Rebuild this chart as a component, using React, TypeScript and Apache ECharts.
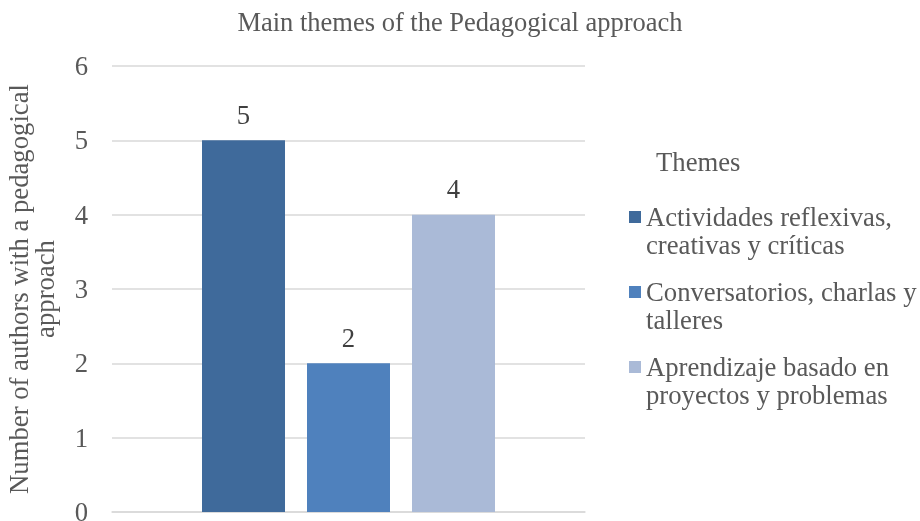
import React, { useEffect, useRef } from "react";
import * as echarts from "echarts";

const titleText = "Main themes of the Pedagogical approach";
const legendTitle = "Themes";
const yAxisName = "Number of authors with a pedagogical\napproach";
const categories = ["Main themes"];
const seriesNames = [
  "Actividades reflexivas,\ncreativas y críticas",
  "Conversatorios, charlas y\ntalleres",
  "Aprendizaje basado en\nproyectos y problemas",
];
const seriesValues = [5, 2, 4];
const seriesColors = ["#3F6A9B", "#4F81BD", "#AABAD7"];

const FONT = "'Liberation Serif', 'Times New Roman', serif";
const FS = 26.7;

export default function App() {
  const ref = useRef<HTMLDivElement>(null);
  useEffect(() => {
    const chart = echarts.init(ref.current!, null, { renderer: "svg" });
    const icon = "path://M0,0h12v12h-12z M0,40h0.001";
    chart.setOption({
      animation: false,
      textStyle: { fontFamily: FONT },
      title: [
        {
          text: titleText,
          left: "center",
          top: 3,
          textStyle: { fontFamily: FONT, fontSize: 26.5, fontWeight: "normal", color: "#595959" },
        },
        {
          text: legendTitle,
          left: 651,
          top: 143,
          textStyle: { fontFamily: FONT, fontSize: FS, fontWeight: "normal", color: "#595959" },
        },
      ],
      legend: {
        orient: "vertical",
        left: 629,
        top: 203,
        padding: 0,
        itemGap: 19,
        itemWidth: 12,
        itemHeight: 40,
        icon,
        textStyle: { fontFamily: FONT, fontSize: FS, color: "#595959", lineHeight: 28 },
        data: seriesNames,
      },
      grid: { left: 112, right: 335, top: 66, bottom: 9, containLabel: false, outerBoundsMode: "none" },
      xAxis: {
        type: "category",
        data: categories,
        axisLine: { show: true, lineStyle: { color: "#D9D9D9", width: 1.5 } },
        axisTick: { show: false },
        axisLabel: { show: false },
      },
      yAxis: {
        type: "value",
        min: 0,
        max: 6,
        interval: 1,
        name: yAxisName,
        nameLocation: "middle",
        nameGap: 54,
        nameTextStyle: { fontFamily: FONT, fontSize: FS, color: "#595959", lineHeight: 26 },
        axisLine: { show: false },
        axisTick: { show: false },
        axisLabel: { fontFamily: FONT, fontSize: FS, color: "#595959", margin: 24 },
        splitLine: { lineStyle: { color: "#D9D9D9", width: 1.5 } },
      },
      series: seriesNames.map((name, i) => ({
        type: "bar",
        name,
        data: [seriesValues[i]],
        barWidth: 83,
        barGap: "26.5%",
        itemStyle: { color: seriesColors[i] },
        label: {
          show: true,
          position: "top",
          distance: 12,
          fontFamily: FONT,
          fontSize: FS,
          color: "#404040",
        },
      })),
    });
    return () => chart.dispose();
  }, []);
  return <div ref={ref} style={{ position: "fixed", left: 0, top: 0, width: 920, height: 521 }} />;
}
